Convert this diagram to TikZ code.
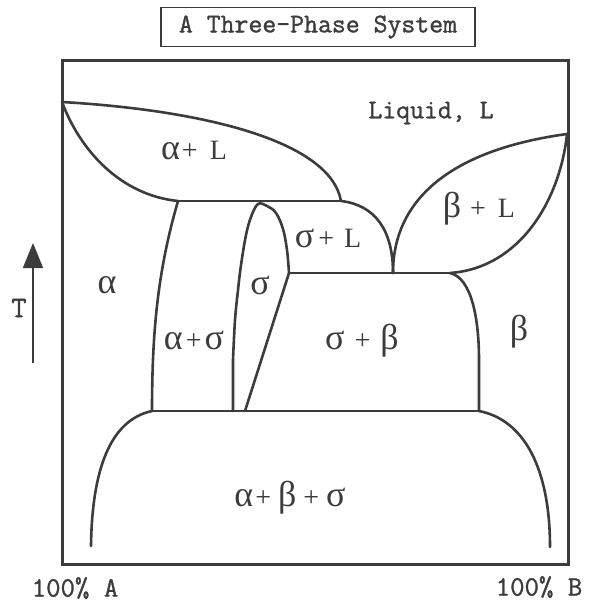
\documentclass[tikz,border=0pt]{standalone}
\usepackage{fontspec}
\setmainfont{Liberation Serif}
\newfontfamily\slabfont[FakeBold=1.2]{Latin Modern Mono}
\usetikzlibrary{arrows.meta}
\definecolor{ln}{HTML}{3C3C3C}
\tikzset{
  bnd/.style={line width=2.6pt, draw=ln, line cap=round, line join=round},
  frame/.style={line width=3pt, draw=ln},
  lab/.style={text=ln, inner sep=0pt, font=\fontsize{28}{28}\selectfont},
  mono/.style={text=ln, inner sep=0pt, font=\slabfont\fontsize{27}{27}\selectfont},
}
\newcommand\gk[1]{{\fontsize{36}{36}\selectfont #1}}
\newcommand\gp[1]{\hspace*{#1pt}}
\begin{document}
\begin{tikzpicture}[x=1pt,y=-1pt]
\useasboundingbox (0,0) rectangle (590,604);
% title
\node[mono, draw=ln, line width=1.5pt, minimum width=314pt, minimum height=39pt] (title) at (318,27) {A Three-Phase System};
% frame
\draw[frame] (62,61) rectangle (568,564);
% key points
\coordinate (LA) at (62,102);
\coordinate (P1) at (178,201);
\coordinate (P2) at (341,201);
\coordinate (E) at (393,273);
\coordinate (RB) at (567,134);
\coordinate (P3) at (450,273);
\coordinate (S1) at (289,273);
\coordinate (A2) at (152,411);
\coordinate (B2) at (479,411);
\coordinate (D1) at (91,546);
\coordinate (D2) at (550,547);
% alpha + L
\draw[bnd] (LA) .. controls (200,110) and (330,140) .. (P2);
\draw[bnd] (LA) .. controls (80,150) and (120,195) .. (P1);
\draw[bnd] (P1) -- (P2);
% sigma + L
\draw[bnd] (P2) .. controls (375,205) and (393,230) .. (E);
% beta + L
\draw[bnd] (RB) .. controls (450,150) and (393,200) .. (E);
\draw[bnd] (RB) .. controls (560,200) and (520,268) .. (P3);
% sigma + beta
\draw[bnd] (S1) -- (P3);
\draw[bnd] (P3) .. controls (472,278) and (479,320) .. (479,360) -- (B2);
% alpha + sigma
\draw[bnd] (P1) .. controls (158,270) and (152,330) .. (A2);
\draw[bnd] (A2) -- (B2);
% sigma dome
\draw[bnd] (233,411) -- (233,360) plot[smooth, tension=0.6] coordinates {(233,360) (235,320) (238,290) (241,265) (246,235) (251,217) (258,204) (267,206) (276,213) (283,229) (287,250) (289,273)} -- (245,411);
% lower dome
\draw[bnd] (D1) .. controls (92,470) and (110,420) .. (A2);
\draw[bnd] (B2) .. controls (525,420) and (550,470) .. (D2);
% T arrow
\coordinate (Tb) at (33,363);
\coordinate (Tt) at (33,243);
\draw[line width=1.5pt, draw=ln, -{Triangle[length=25pt,width=20pt]}] (Tb) -- (Tt);
\node[mono, font=\slabfont\fontsize{30}{30}\selectfont] (T) at (19,308) {T};
% labels
\node[mono] (liq) at (431,113) {Liquid, L};
\node[lab] (aL) at (194,151) {\gk{α}\gp{2}+\gp{12}L};
\node[lab] (bL) at (479,209) {\gk{β}\gp{9}+\gp{12}L};
\node[lab] (sL) at (328,238) {\gk{σ}\gp{4}+\gp{10}L};
\node[lab] (s) at (260,285) {\gk{σ}};
\node[lab] (a) at (107,285) {\gk{α}};
\node[lab] (as) at (194,340) {\gk{α}\gp{3}+\gp{3}\gk{σ}};
\node[lab] (sb) at (362,341) {\gk{σ}\gp{10}+\gp{10}\gk{β}};
\node[lab] (b) at (519,332) {\gk{β}};
\node[lab] (abs) at (290,498) {\gk{α}\gp{2}+\gp{7}\gk{β}\gp{7}+\gp{7}\gk{σ}};
\node[mono, font=\slabfont\fontsize{28}{28}\selectfont] (pA) at (75,588) {100\% A};
\node[mono, font=\slabfont\fontsize{28}{28}\selectfont] (pB) at (539,587) {100\% B};
\end{tikzpicture}
\end{document}
